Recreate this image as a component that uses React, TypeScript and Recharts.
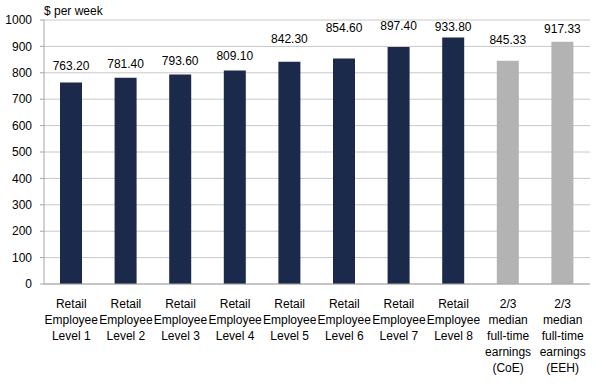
import React from 'react';
import { BarChart, Bar, XAxis, YAxis, CartesianGrid, Cell, LabelList } from 'recharts';

const categories = [
  'Retail\nEmployee\nLevel 1',
  'Retail\nEmployee\nLevel 2',
  'Retail\nEmployee\nLevel 3',
  'Retail\nEmployee\nLevel 4',
  'Retail\nEmployee\nLevel 5',
  'Retail\nEmployee\nLevel 6',
  'Retail\nEmployee\nLevel 7',
  'Retail\nEmployee\nLevel 8',
  '2/3\nmedian\nfull-time\nearnings\n(CoE)',
  '2/3\nmedian\nfull-time\nearnings\n(EEH)',
];
const weekly = [763.2, 781.4, 793.6, 809.1, 842.3, 854.6, 897.4, 933.8, 845.33, 917.33];
const isBenchmark = [false, false, false, false, false, false, false, false, true, true];
const yTicks = [0, 100, 200, 300, 400, 500, 600, 700, 800, 900, 1000];
const boundaryTicks = [0, 1, 2, 3, 4, 5, 6, 7, 8, 9, 10];

const NAVY = '#1b2a4a';
const GREY = '#b3b3b3';
const LINE = '#a6a6a6';
const FONT = '"Liberation Sans", Arial, sans-serif';

// how far (px) each value label sits above its bar, as laid out in the original
const labelLift = [17, 14, 13, 14, 23, 30, 21, 10, 21, 13];

const data = categories.map((name, i) => ({ name, value: weekly[i], bench: isBenchmark[i] }));

const MultiLineTick = ({ x, y, payload }: any) => {
  const lines = String(payload.value).split('\n');
  return (
    <text x={x} y={y} textAnchor="middle" fontSize={12} fontFamily={FONT} fill="#000">
      {lines.map((l, i) => (
        <tspan key={i} x={x} dy={16}>
          {l}
        </tspan>
      ))}
    </text>
  );
};

const ValueLabel = (props: any) => {
  const { x, y, width, value, index } = props;
  const lift = labelLift[index] ?? 13;
  return (
    <text
      x={Number(x) + Number(width) / 2}
      y={Number(y) - lift}
      textAnchor="middle"
      dominantBaseline="central"
      fontSize={12}
      fontFamily={FONT}
      fill="#000"
    >
      {Number(value).toFixed(2)}
    </text>
  );
};

export default function App() {
  return (
    <div style={{ position: 'absolute', left: 0, top: 0, width: 605, height: 386, background: '#fff' }}>
      <div
        style={{
          position: 'absolute',
          left: 44,
          top: 4,
          fontFamily: FONT,
          fontSize: 12,
          color: '#000',
        }}
      >
        $ per week
      </div>
      <BarChart
        width={605}
        height={386}
        data={data}
        margin={{ top: 20, right: 15, bottom: 0, left: 0 }}
      >
        <CartesianGrid vertical={false} stroke="#c8c8c8" />
        <XAxis
          xAxisId="ticks"
          type="number"
          domain={[0, 10]}
          ticks={boundaryTicks}
          tick={false}
          axisLine={false}
          tickLine={{ stroke: LINE }}
          tickSize={5}
          height={0}
        />
        <XAxis
          dataKey="name"
          interval={0}
          height={102}
          tick={<MultiLineTick />}
          tickLine={false}
          axisLine={{ stroke: LINE }}
        />
        <YAxis
          width={44}
          domain={[0, 1000]}
          ticks={yTicks}
          interval={0}
          tickSize={4}
          tickMargin={8}
          axisLine={{ stroke: LINE }}
          tickLine={{ stroke: LINE }}
          tick={{ fontSize: 12, fontFamily: FONT, fill: '#000' }}
        />
        <Bar dataKey="value" barSize={22} isAnimationActive={false}>
          {data.map((d, i) => (
            <Cell key={`cell-${i}`} fill={d.bench ? GREY : NAVY} />
          ))}
          <LabelList dataKey="value" content={<ValueLabel />} />
        </Bar>
      </BarChart>
    </div>
  );
}
